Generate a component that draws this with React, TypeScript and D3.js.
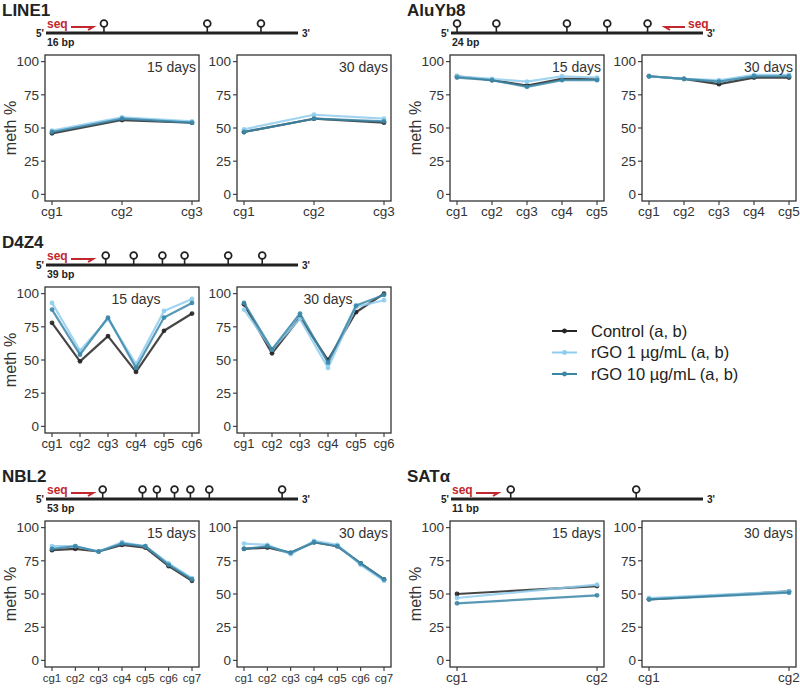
import React from 'react';
import * as d3 from 'd3';

// conditions / legend
const conditions = ['Control (a, b)', 'rGO 1 µg/mL (a, b)', 'rGO 10 µg/mL (a, b)'];
const condColors = ['#262626', '#8fcdee', '#3b87a8'];
const drawOrder = [0, 1, 2];
const days = ['15 days', '30 days'];
const yTicks = [0, 25, 50, 75, 100];

// values per gene and day: [control, rGO1, rGO10]
const line1Day15 = [[46, 56, 54], [48, 58, 55], [47, 57, 54]];
const line1Day30 = [[47, 57, 54], [49, 60, 57], [47, 57, 55]];
const aluDay15 = [[89, 86, 82, 87, 87], [89, 87, 85, 89, 88], [88, 86, 81, 86, 86]];
const aluDay30 = [[89, 87, 83, 88, 88], [89, 87, 86, 90, 90], [89, 87, 85, 89, 89]];
const d4z4Day15 = [[78, 49, 68, 41, 72, 85], [93, 57, 81, 47, 87, 96], [88, 54, 82, 44, 82, 93]];
const d4z4Day30 = [[92, 55, 82, 50, 86, 100], [88, 58, 81, 44, 90, 95], [93, 58, 85, 48, 91, 99]];
const nbl2Day15 = [[83, 84, 82, 87, 85, 71, 60], [86, 86, 82, 89, 86, 73, 62], [84, 86, 82, 88, 86, 72, 61]];
const nbl2Day30 = [[84, 85, 81, 89, 86, 73, 61], [88, 87, 80, 90, 87, 72, 60], [84, 86, 81, 89, 86, 73, 61]];
const satDay15 = [[50, 56], [47, 57], [43, 49]];
const satDay30 = [[46, 52], [47, 52], [46, 51]];

// CpG site positions along the amplicon (fraction of length)
const line1Sites = [0.23, 0.64, 0.853];
const aluSites = [0.024, 0.18, 0.46, 0.62, 0.78];
const d4z4Sites = [0.237, 0.348, 0.462, 0.55, 0.723, 0.858];
const nbl2Sites = [0.225, 0.383, 0.44, 0.51, 0.573, 0.648, 0.937];
const satSites = [0.237, 0.735];

const genes = [
  { name: 'LINE1', bp: '16 bp', sites: line1Sites, seqLeft: true, values: [line1Day15, line1Day30], col: 0, row: 0, fs: 13.5, dayAt: null },
  { name: 'AluYb8', bp: '24 bp', sites: aluSites, seqLeft: false, values: [aluDay15, aluDay30], col: 1, row: 0, fs: 13.5, dayAt: null },
  { name: 'D4Z4', bp: '39 bp', sites: d4z4Sites, seqLeft: true, values: [d4z4Day15, d4z4Day30], col: 0, row: 1, fs: 13, dayAt: 4 },
  { name: 'NBL2', bp: '53 bp', sites: nbl2Sites, seqLeft: true, values: [nbl2Day15, nbl2Day30], col: 0, row: 2, fs: 11.5, dayAt: null },
  { name: 'SATα', bp: '11 bp', sites: satSites, seqLeft: true, values: [satDay15, satDay30], col: 1, row: 2, fs: 13.5, dayAt: null },
];

const colX = [0, 405];
const rowTop = [55, 287, 521];
const panelX = [[45, 199], [237, 391]];
const panelH = 146;
const font = '"Liberation Sans", Arial, Helvetica, sans-serif';
const seqRed = '#c1272d';

function Diagram({ g }) {
  const ox = colX[g.col];
  const ly = rowTop[g.row] - 22;
  const s = d3.scaleLinear().domain([0, 1]).range([ox + 46, ox + 298]);
  const [x0, x1] = s.range();
  let arrow;
  if (g.seqLeft) {
    const a0 = x0 + 25, a1 = x0 + 47;
    arrow = (
      <g>
        <text x={x0 + 1} y={ly - 5} fill={seqRed} fontSize={12} fontWeight="bold" fontFamily={font}>seq</text>
        <path d={`M${a0},${ly - 6}H${a1}L${a1 - 5},${ly - 3}`} fill="none" stroke={seqRed} strokeWidth={2} />
      </g>
    );
  } else {
    const a0 = ox + 260, a1 = ox + 280;
    arrow = (
      <g>
        <text x={ox + 283} y={ly - 5} fill={seqRed} fontSize={12} fontWeight="bold" fontFamily={font}>seq</text>
        <path d={`M${a1},${ly - 6}H${a0}L${a0 + 5},${ly - 3}`} fill="none" stroke={seqRed} strokeWidth={2} />
      </g>
    );
  }
  return (
    <g>
      <text x={ox + 2} y={ly - 17} fontSize={17} fontWeight="bold" fontFamily={font} fill="#222">{g.name}</text>
      <line x1={x0} x2={x1} y1={ly} y2={ly} stroke="#222" strokeWidth={3.2} />
      <text x={x0 - 2} y={ly + 4} textAnchor="end" fontSize={10} fontWeight="bold" fontFamily={font} fill="#222">5'</text>
      <text x={x1 + 4} y={ly + 4} fontSize={10} fontWeight="bold" fontFamily={font} fill="#222">3'</text>
      <text x={x0 + 1} y={ly + 13} fontSize={10.5} fontWeight="bold" fontFamily={font} fill="#222">{g.bp}</text>
      {arrow}
      {g.sites.map((p, i) => (
        <g key={i}>
          <line x1={s(p)} x2={s(p)} y1={ly} y2={ly - 6} stroke="#222" strokeWidth={1.6} />
          <circle cx={s(p)} cy={ly - 9.5} r={3.4} fill="#fff" stroke="#222" strokeWidth={1.8} />
        </g>
      ))}
    </g>
  );
}

function Panel({ g, d }) {
  const ox = colX[g.col];
  const top = rowTop[g.row];
  const [px0, px1] = panelX[d];
  const n = g.values[d][0].length;
  const pad = 0.05 * (n - 1);
  const x = d3.scaleLinear().domain([1 - pad, n + pad]).range([ox + px0, ox + px1]);
  const y = d3.scaleLinear().domain([-5, 105]).range([top + panelH, top]);
  const cats = d3.range(1, n + 1);
  const line = d3.line<number>().x((_, i) => x(i + 1)).y(v => y(v));
  const left = ox + px0, right = ox + px1, bottom = top + panelH;
  return (
    <g>
      {drawOrder.map(ci => (
        <g key={ci}>
          <path d={line(g.values[d][ci]) || ''} fill="none" stroke={condColors[ci]} strokeWidth={2.2} strokeOpacity={0.85} strokeLinejoin="round" />
          {g.values[d][ci].map((v, i) => (
            <circle key={i} cx={x(i + 1)} cy={y(v)} r={2.4} fill={condColors[ci]} fillOpacity={0.9} />
          ))}
        </g>
      ))}
      <rect x={left} y={top} width={right - left} height={panelH} fill="none" stroke="#333" strokeWidth={1.3} />
      {yTicks.map(t => (
        <g key={t}>
          <line x1={left - 4} x2={left} y1={y(t)} y2={y(t)} stroke="#333" strokeWidth={1.1} />
          <text x={left - 6} y={y(t)} dy="0.35em" textAnchor="end" fontSize={13.5} fontFamily={font} fill="#333">{t}</text>
        </g>
      ))}
      {cats.map(c => (
        <g key={c}>
          <line x1={x(c)} x2={x(c)} y1={bottom} y2={bottom + 4} stroke="#333" strokeWidth={1.1} />
          <text x={x(c)} y={bottom + 15} textAnchor="middle" fontSize={g.fs} fontFamily={font} fill="#333">{`cg${c}`}</text>
        </g>
      ))}
      {g.dayAt ? (
        <text x={x(g.dayAt)} y={top + 17} textAnchor="middle" fontSize={14} fontFamily={font} fill="#333">{days[d]}</text>
      ) : (
        <text x={right - 3} y={top + 17} textAnchor="end" fontSize={14} fontFamily={font} fill="#333">{days[d]}</text>
      )}
    </g>
  );
}

export default function App() {
  const legendY = d3.scalePoint<number>().domain([0, 1, 2]).range([331, 374]);
  return (
    <svg width={800} height={689} style={{ position: 'absolute', left: 0, top: 0, background: '#fff' }}>
      {genes.map(g => (
        <g key={g.name}>
          <Diagram g={g} />
          <Panel g={g} d={0} />
          <Panel g={g} d={1} />
          <text transform={`translate(${colX[g.col] + 16},${rowTop[g.row] + 73}) rotate(-90)`} textAnchor="middle" fontSize={16} fontFamily={font} fill="#333">meth %</text>
        </g>
      ))}
      {conditions.map((c, i) => (
        <g key={c}>
          <line x1={552} x2={577} y1={legendY(i)} y2={legendY(i)} stroke={condColors[i]} strokeWidth={2} />
          <circle cx={564.5} cy={legendY(i)} r={2.4} fill={condColors[i]} />
          <text x={591} y={legendY(i)} dy="0.35em" fontSize={16.5} fontFamily={font} fill="#222">{c}</text>
        </g>
      ))}
    </svg>
  );
}
